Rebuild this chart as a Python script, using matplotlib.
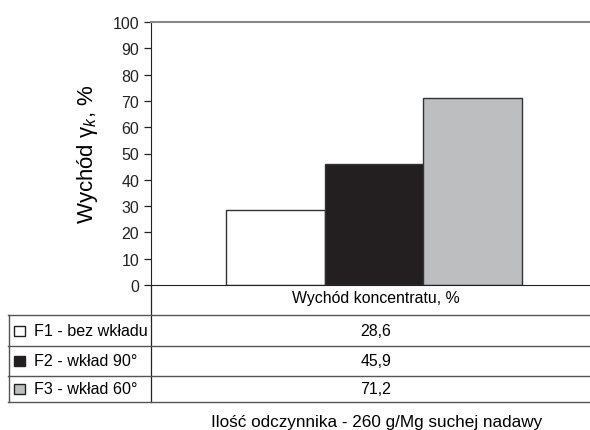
import matplotlib
matplotlib.use("Agg")
import matplotlib.pyplot as plt
from matplotlib.patches import Rectangle
from matplotlib.lines import Line2D

plt.rcParams['font.family'] = ['Liberation Sans', 'DejaVu Sans']
plt.rcParams['mathtext.fontset'] = 'custom'
plt.rcParams['mathtext.rm'] = 'Liberation Sans'
plt.rcParams['mathtext.it'] = 'Liberation Sans:italic'

series = ["F1 - bez wkładu", "F2 - wkład 90°", "F3 - wkład 60°"]
values = [28.6, 45.9, 71.2]
colors = ["#ffffff", "#231f20", "#bcbec0"]
category = "Wychód koncentratu, %"
ylabel = r"Wychód γ$_{\mathit{k}}$, %"
note = "Ilość odczynnika - 260 g/Mg suchej nadawy"

W, H = 590, 431
fig = plt.figure(figsize=(W / 100, H / 100), dpi=100)

def fx(x):
    return x / W

def fy(y):
    return 1 - y / H

ax = fig.add_axes([fx(151), fy(286), fx(590) - fx(151), fy(23) - fy(286)])
for i, (v, c) in enumerate(zip(values, colors)):
    ax.bar(i, v, width=1.0, color=c, edgecolor="#333333", linewidth=1.0)
ax.set_xlim(-1.26, 3.19)
ax.set_ylim(0, 100)
ax.set_yticks(range(0, 101, 10))
ax.set_xticks([])
ax.tick_params(axis='y', labelsize=11.5, length=5, width=0.9, colors="#222222")
ax.spines['right'].set_visible(False)
ax.spines['top'].set_color("#888888")
ax.spines['top'].set_linewidth(1.5)
ax.spines['left'].set_color("#222222")
ax.spines['bottom'].set_color("#222222")
ax.set_ylabel(ylabel, fontsize=16, labelpad=9)

# data table under the chart
row_lines = [316, 347, 377, 403]
lc = "#555555"
fig.add_artist(Line2D([fx(151), fx(151)], [fy(286), fy(403)], color="#222222", lw=0.9))
for y in row_lines:
    fig.add_artist(Line2D([fx(8), fx(590)], [fy(y), fy(y)], color=lc, lw=1.0))
fig.add_artist(Line2D([fx(8.5), fx(8.5)], [fy(316), fy(403)], color=lc, lw=1.0))
fig.text(fx(376), fy(299), category, ha='center', va='center', fontsize=11.4)
for k, (name, v, c) in enumerate(zip(series, values, colors)):
    yc = (row_lines[k] + row_lines[k + 1]) / 2
    fig.add_artist(Rectangle((fx(14), fy(yc + 5)), fx(11), fy(0) - fy(10),
                             facecolor=c, edgecolor="#222222", lw=1.0))
    fig.text(fx(34), fy(yc), name, ha='left', va='center', fontsize=11.6)
    fig.text(fx(376), fy(yc), ("%.1f" % v).replace(".", ","),
             ha='center', va='center', fontsize=11.4)
fig.text(fx(377), fy(423), note, ha='center', va='center', fontsize=12.3)

fig.savefig("out.png", dpi=100)
